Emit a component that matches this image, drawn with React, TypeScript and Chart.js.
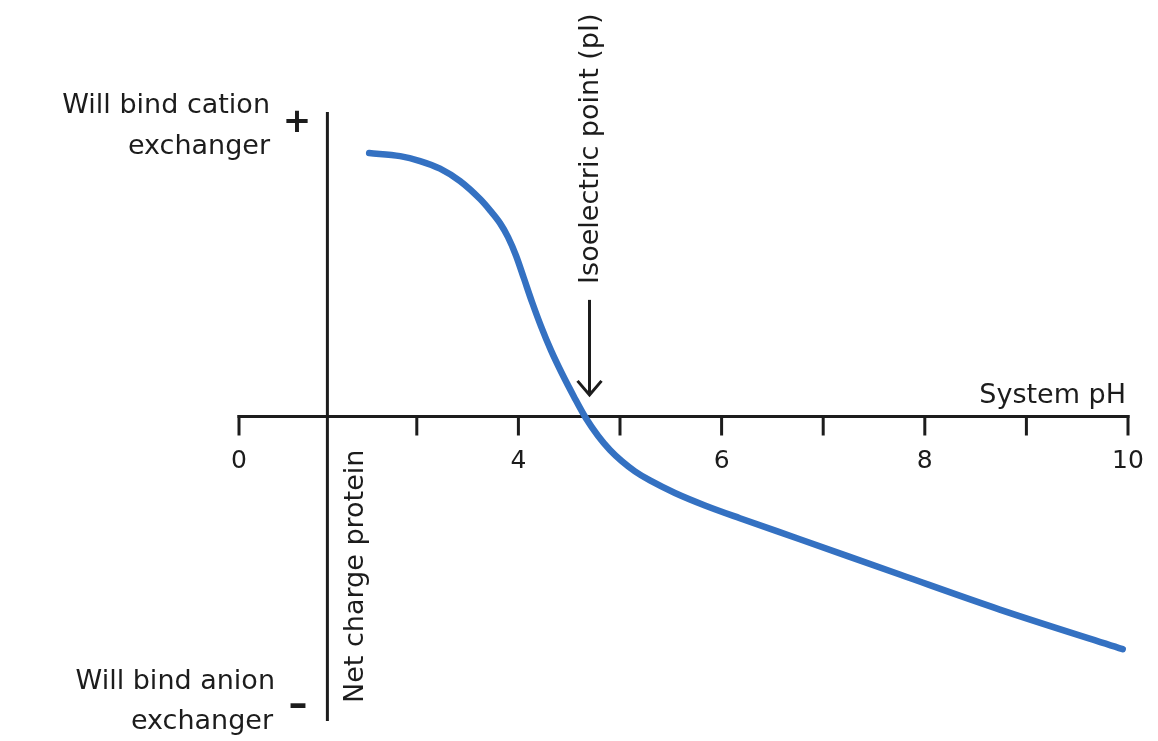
import { useEffect, useRef } from "react";
import { Chart, registerables } from "chart.js";

Chart.register(...registerables);

// ---- data ----
const phValues = [
  2.531, 2.836, 3.032, 3.229, 3.426, 3.623, 3.721, 3.819, 3.898, 3.977, 4.055,
  4.134, 4.223, 4.321, 4.429, 4.547, 4.665, 4.783, 4.901, 5.019, 5.147, 5.295,
  5.541, 5.836, 6.18, 6.77, 7.754, 8.738, 9.948,
];
const netCharge = [
  0.865, 0.855, 0.839, 0.814, 0.773, 0.714, 0.677, 0.635, 0.589, 0.528, 0.453,
  0.376, 0.296, 0.217, 0.141, 0.065, -0.006, -0.063, -0.11, -0.147, -0.18,
  -0.21, -0.251, -0.292, -0.334, -0.403, -0.519, -0.634, -0.764,
];
const xTickValues = [1.25, 3, 4, 5, 6, 7, 8, 9, 10];
const xTickLabels = ["0", "", "4", "", "6", "", "8", "", "10"];
const X_MIN = 1.25;
const X_MAX = 10;
const Y_MIN = -1;
const Y_MAX = 1;
const Y_AXIS_AT = 2.12;
const PI_VALUE = 4.7;
const xAxisTitle = "System pH";
const yAxisTitle = "Net charge protein";
const piLabel = "Isoelectric point (pI)";
const topLabel = ["Will bind cation", "exchanger"];
const bottomLabel = ["Will bind anion", "exchanger"];

const FONT = '"DejaVu Sans", sans-serif';
const INK = "#1c1c1c";
const BLUE = "#3471c2";

const axesPlugin = {
  id: "schematicAxes",
  beforeDatasetsDraw(chart: any) {
    const { ctx } = chart;
    const xs = chart.scales.x;
    const ys = chart.scales.y;
    const y0 = ys.getPixelForValue(0);
    const xa = xs.getPixelForValue(Y_AXIS_AT);
    ctx.save();
    ctx.strokeStyle = INK;
    ctx.fillStyle = INK;
    ctx.lineWidth = 3;
    ctx.lineCap = "butt";

    // x axis
    ctx.beginPath();
    ctx.moveTo(xs.getPixelForValue(X_MIN) - 1.5, y0);
    ctx.lineTo(xs.getPixelForValue(X_MAX) + 1.5, y0);
    ctx.stroke();
    // ticks
    xTickValues.forEach((v) => {
      const px = xs.getPixelForValue(v);
      ctx.beginPath();
      ctx.moveTo(px, y0 - 1.5);
      ctx.lineTo(px, y0 + 19);
      ctx.stroke();
    });
    // y axis
    ctx.beginPath();
    ctx.moveTo(xa, ys.getPixelForValue(Y_MAX));
    ctx.lineTo(xa, ys.getPixelForValue(Y_MIN));
    ctx.stroke();

    // tick labels
    ctx.font = `25px ${FONT}`;
    ctx.textAlign = "center";
    ctx.textBaseline = "alphabetic";
    xTickValues.forEach((v, i) => {
      if (xTickLabels[i]) ctx.fillText(xTickLabels[i], xs.getPixelForValue(v), y0 + 51);
    });

    // axis title
    ctx.font = `27px ${FONT}`;
    ctx.textAlign = "right";
    ctx.fillText(xAxisTitle, xs.getPixelForValue(X_MAX) - 2, y0 - 14);

    // side labels
    ctx.fillText(topLabel[0], 270, ys.getPixelForValue(Y_MAX) + 1);
    ctx.fillText(topLabel[1], 270, ys.getPixelForValue(Y_MAX) + 42);
    ctx.fillText(bottomLabel[0], 275, ys.getPixelForValue(Y_MIN) - 32);
    ctx.fillText(bottomLabel[1], 273, ys.getPixelForValue(Y_MIN) + 8);

    // plus / minus
    ctx.font = `bold 34px ${FONT}`;
    ctx.textAlign = "center";
    ctx.textBaseline = "middle";
    ctx.fillText("+", 297, ys.getPixelForValue(Y_MAX) + 11);
    ctx.font = `bold 38px ${FONT}`;
    ctx.fillText("\u2013", 298, ys.getPixelForValue(Y_MIN) - 15);

    // rotated y title
    ctx.font = `27px ${FONT}`;
    ctx.textAlign = "left";
    ctx.textBaseline = "alphabetic";
    ctx.save();
    ctx.translate(xa + 36, ys.getPixelForValue(Y_MIN) - 18);
    ctx.rotate(-Math.PI / 2);
    ctx.fillText(yAxisTitle, 0, 0);
    ctx.restore();

    // pI arrow and label
    const xp = xs.getPixelForValue(PI_VALUE);
    const arrowTop = ys.getPixelForValue(0.383);
    const arrowTip = ys.getPixelForValue(0.071);
    ctx.beginPath();
    ctx.moveTo(xp, arrowTop);
    ctx.lineTo(xp, arrowTip);
    ctx.stroke();
    ctx.beginPath();
    ctx.moveTo(xp - 12, arrowTip - 14);
    ctx.lineTo(xp, arrowTip);
    ctx.lineTo(xp + 12, arrowTip - 14);
    ctx.stroke();

    ctx.save();
    ctx.translate(xp + 8, arrowTop - 16);
    ctx.rotate(-Math.PI / 2);
    ctx.fillText(piLabel, 0, 0);
    ctx.restore();

    ctx.restore();
  },
};

export default function App() {
  const canvasRef = useRef<HTMLCanvasElement | null>(null);

  useEffect(() => {
    if (!canvasRef.current) return;
    const chart = new Chart(canvasRef.current, {
      type: "line",
      data: {
        datasets: [
          {
            data: phValues.map((v, i) => ({ x: v, y: netCharge[i] })),
            borderColor: BLUE,
            borderWidth: 6.5,
            pointRadius: 0,
            cubicInterpolationMode: "monotone",
            borderCapStyle: "round",
            borderJoinStyle: "round",
            fill: false,
          } as any,
        ],
      },
      options: {
        animation: false,
        responsive: true,
        maintainAspectRatio: false,
        events: [],
        layout: { padding: { left: 239, right: 30, top: 112, bottom: 20 } },
        scales: {
          x: { type: "linear", min: X_MIN, max: X_MAX, display: false },
          y: { type: "linear", min: Y_MIN, max: Y_MAX, display: false },
        },
        plugins: { legend: { display: false }, tooltip: { enabled: false } },
      },
      plugins: [axesPlugin],
    });
    return () => chart.destroy();
  }, []);

  return (
    <div
      style={{
        position: "fixed",
        left: 0,
        top: 0,
        width: 1158,
        height: 741,
        background: "#ffffff",
      }}
    >
      <canvas ref={canvasRef} />
    </div>
  );
}
